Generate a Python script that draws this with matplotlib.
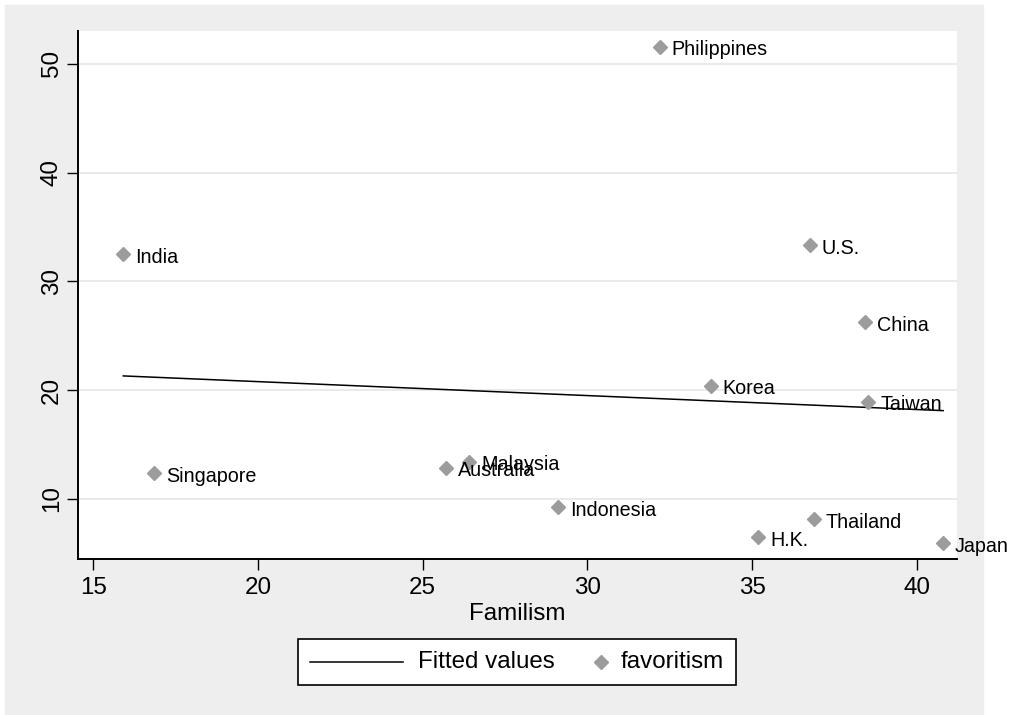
import numpy as np
import matplotlib.pyplot as plt
from matplotlib.patches import Rectangle
from matplotlib.lines import Line2D
from matplotlib.offsetbox import DrawingArea, TextArea, HPacker, AnchoredOffsetbox

plt.rcParams['font.family'] = ['Liberation Sans', 'DejaVu Sans']

# Country scores: familism (x) vs favoritism (y)
countries = ["Philippines", "India", "U.S.", "China", "Korea", "Taiwan", "Singapore",
             "Australia", "Malaysia", "Indonesia", "H.K.", "Thailand", "Japan"]
familism = [32.19, 15.91, 36.75, 38.43, 33.74, 38.53, 16.85,
            25.71, 26.42, 29.12, 35.19, 36.88, 40.80]
favoritism = [51.59, 32.48, 33.31, 26.26, 20.40, 18.95, 12.36,
              12.88, 13.43, 9.24, 6.48, 8.16, 5.93]

x_ticks = [15, 20, 25, 30, 35, 40]
y_ticks = [10, 20, 30, 40, 50]

MARKER_GRAY = '#9c9c9c'
BIG = 17.4
SMALL = 14.2

x = np.array(familism)
y = np.array(favoritism)

# linear fit, drawn across the observed range
slope, intercept = np.polyfit(x, y, 1)
x_fit = np.array([x.min(), x.max()])
y_fit = intercept + slope * x_fit

fig = plt.figure(figsize=(10.10, 7.15), dpi=100, facecolor='white')
fig.patches.append(Rectangle((5 / 1010, 0), 978 / 1010, 710 / 715,
                             transform=fig.transFigure, color='#eeeeee', zorder=-1))

ax = fig.add_axes([78 / 1010, 1 - 559 / 715, 879 / 1010, 528 / 715])
ax.set_facecolor('white')

ax.plot(x_fit, y_fit, color='black', lw=1.1, zorder=2)
ax.plot(x, y, ls='none', marker='D', ms=7.6, color=MARKER_GRAY, mec=MARKER_GRAY, zorder=3)
for name, xi, yi in zip(countries, x, y):
    ax.annotate(name, (xi, yi), xytext=(8.5, -2.2), textcoords='offset points',
                ha='left', va='center', fontsize=SMALL, color='black', zorder=4)

ax.set_xlim(14.535, 41.22)
ax.set_ylim(4.48, 53.03)
ax.set_xticks(x_ticks)
ax.set_yticks(y_ticks)
ax.grid(axis='y', color='#e6e6e6', lw=1.2)
ax.set_axisbelow(True)

for side in ['top', 'right']:
    ax.spines[side].set_visible(False)
for side in ['left', 'bottom']:
    ax.spines[side].set_linewidth(1.4)

ax.tick_params(axis='both', direction='out', length=7.9, width=1.0, labelsize=BIG, colors='black')
ax.tick_params(axis='x', pad=5)
ax.tick_params(axis='y', pad=3)
for lab in ax.get_yticklabels():
    lab.set_rotation(90)
    lab.set_va('center')

ax.set_xlabel("Familism", fontsize=BIG, va='baseline')
ax.xaxis.set_label_coords(0.5, -0.1155)

# legend box below the axis title
line_da = DrawingArea(67, 12, 0, 0)
line_da.add_artist(Line2D([0, 67], [6, 6], color='black', lw=1.1))
mark_da = DrawingArea(11, 12, 0, 0)
mark_da.add_artist(Line2D([5.5], [6], ls='none', marker='D', ms=7.6,
                          color=MARKER_GRAY, mec=MARKER_GRAY))
entry1 = HPacker(children=[line_da, TextArea("Fitted values", textprops=dict(size=BIG))],
                 sep=10.5, align='center', pad=0)
entry2 = HPacker(children=[mark_da, TextArea("favoritism", textprops=dict(size=BIG))],
                 sep=8.5, align='center', pad=0)
row = HPacker(children=[entry1, entry2], sep=28, align='center', pad=0)
leg = AnchoredOffsetbox(loc='center', child=row, pad=0.5, borderpad=0, frameon=True,
                        prop=dict(size=BIG), bbox_to_anchor=(517 / 1010, 1 - 662 / 715),
                        bbox_transform=fig.transFigure)
leg.patch.set_edgecolor('black')
leg.patch.set_linewidth(1.2)
leg.patch.set_facecolor('white')
leg.patch.set_boxstyle('square', pad=0)
ax.add_artist(leg)

fig.savefig('out.png', dpi=100, facecolor=fig.get_facecolor())
